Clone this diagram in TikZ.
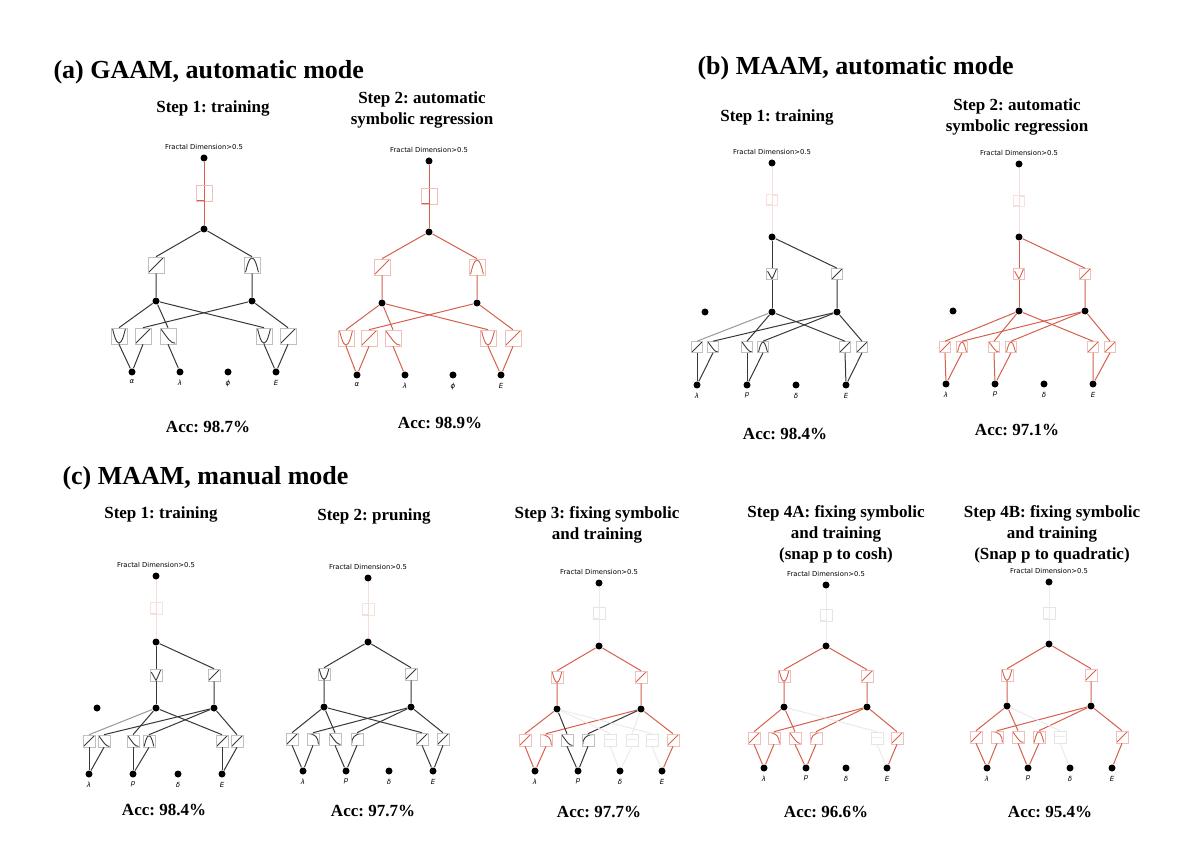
\documentclass[tikz,border=0pt]{standalone}
\usepackage{fontspec}
\setmainfont{Liberation Serif}
\newfontfamily\plotfont{DejaVu Sans}
\usetikzlibrary{positioning}
\frenchspacing

\definecolor{kred}{RGB}{214,96,77}
\colorlet{ink}{black!78}
\colorlet{soft}{black!40}
\colorlet{faint}{black!8}
\colorlet{pale}{kred!22}
\colorlet{kredB}{kred!40}
\colorlet{inkB}{black!25}
\colorlet{softB}{black!20}
\colorlet{faintB}{black!10}
\colorlet{paleB}{kred!18}

% little curves drawn inside the activation boxes (units: half box)
\newcommand\glyphlin{\draw[glyphcol] (-0.9,-0.9) -- (0.9,0.9);}
\newcommand\glyphdec{\draw[glyphcol] (-0.9,0.9) .. controls (0,-0.3) and (0.3,-0.9) .. (0.9,-0.9);}
\newcommand\glyphU{\draw[glyphcol] (-0.8,0.9) parabola bend (0,-0.9) (0.8,0.9);}
\newcommand\glyphcap{\draw[glyphcol] (-0.8,-0.9) parabola bend (0,0.9) (0.8,-0.9);}
\newcommand\glyphV{\draw[glyphcol] (-0.8,0.5) .. controls (-0.3,-0.3) .. (0,-0.9) .. controls (0.3,-0.3) .. (0.8,0.9);}
\newcommand\glyphstep{\draw[glyphcol] (-1,-0.9) -- (0,-0.9) -- (0,0.9) -- (1,0.9);}
\newcommand\glyphfall{\draw[glyphcol] (-0.9,0.9) .. controls (0.4,0.9) and (0.9,0.2) .. (0.9,-0.9);}
\newcommand\glyphrise{\draw[glyphcol] (-0.9,-0.9) .. controls (-0.9,0.2) and (-0.4,0.9) .. (0.9,0.9);}
\newcommand\glyphflat{\draw[glyphcol] (-0.9,0.1) -- (0.9,0.1);}

\tikzset{
  dot/.style={circle, fill=black, inner sep=0, minimum size=7pt},
  box/.style={draw=#1B, line width=0.6pt, inner sep=0, minimum size=2*\bh,
    glyphcol/.style={draw=#1, line width=0.9pt}},
  glyph/.style={path picture={\begin{scope}[shift={(path picture bounding box.center)}, x=\bh pt, y=\bh pt]
    \csname glyph#1\endcsname\end{scope}}},
  fd/.style={font=\plotfont\fontsize{6.8}{8}\selectfont, inner sep=0.5pt},
  inlab/.style={font=\plotfont\itshape\fontsize{7}{8}\selectfont, inner sep=0.5pt},
  title/.style={font=\bfseries\fontsize{26}{30}\selectfont, anchor=base west, inner sep=0},
  steplab/.style={font=\bfseries\fontsize{17}{21}\selectfont, align=center, inner sep=0},
  acc/.style={font=\bfseries\fontsize{17}{21}\selectfont, inner sep=0}
}

\begin{document}
\begin{tikzpicture}[x=1pt, y=-1pt, line width=1pt]
  \useasboundingbox[fill=white] (0,0) rectangle (1200,858);

  % titles
  \node[title] (A-title) at (53,79) {(a) GAAM, automatic mode};
  \node[title] (B-title) at (697,75) {(b) MAAM, automatic mode};
  \node[title] (C-title) at (62,485) {(c) MAAM, manual mode};

  \node[steplab] (A1-step) at (213,108) {Step 1: training};
  \node[steplab] (A2-step) at (422,110) {Step 2: automatic\\symbolic regression};
  \node[steplab] (B1-step) at (777,117) {Step 1: training};
  \node[steplab] (B2-step) at (1017,117) {Step 2: automatic\\symbolic regression};
  \node[steplab] (C1-step) at (161,514) {Step 1: training};
  \node[steplab] (C2-step) at (374,516) {Step 2: pruning};
  \node[steplab] (C3-step) at (597,525) {Step 3: fixing symbolic\\and training};
  \node[steplab] (C4-step) at (836,534) {Step 4A: fixing symbolic\\and training\\(snap p to cosh)};
  \node[steplab] (C5-step) at (1052,534) {Step 4B: fixing symbolic\\and training\\(Snap p to quadratic)};

  \node[acc] (A1-acc) at (208,427) {Acc: 98.7\%};
  \node[acc] (A2-acc) at (440,423) {Acc: 98.9\%};
  \node[acc] (B1-acc) at (785,434) {Acc: 98.4\%};
  \node[acc] (B2-acc) at (1017,430) {Acc: 97.1\%};
  \node[acc] (C1-acc) at (164,810) {Acc: 98.4\%};
  \node[acc] (C2-acc) at (373,811) {Acc: 97.7\%};
  \node[acc] (C3-acc) at (599,812) {Acc: 97.7\%};
  \node[acc] (C4-acc) at (826,812) {Acc: 96.6\%};
  \node[acc] (C5-acc) at (1050,812) {Acc: 95.4\%};

  % (a) step 1
  \def\bh{8}
  \foreach \n/\xx/\yy in {out/204/158, mid/204/229, h1/156/301, h2/252/301,
      i1/132/372, i2/180/372, i3/228/372, i4/276/372}
    \node[dot] (A1-\n) at (\xx,\yy) {};
  \node[fd, above=3pt of A1-out] (A1-fd) {Fractal Dimension>0.5};
  \foreach \k/\t in {1/α, 2/λ, 3/ϕ, 4/E}
    \node[inlab, below=3pt of A1-i\k] (A1-l\k) {\t};
  \node[box=kred, glyph=step] (A1-top) at (204,193) {};
  \draw[kred] (A1-out) -- (A1-top) -- (A1-mid);
  \foreach \k/\xx/\gl in {1/156/lin, 2/252/cap} {
    \node[box=ink, glyph=\gl] (A1-m\k) at (\xx,265) {};
    \draw[ink] (A1-h\k) -- (A1-m\k.south) (A1-m\k.north) -- (A1-mid);
  }
  \foreach \k/\xx/\gl/\h/\i in {1/119/U/1/1, 2/143/lin/2/1, 3/168/dec/1/2, 4/264/U/1/4, 5/288/lin/2/4} {
    \node[box=ink, glyph=\gl] (A1-b\k) at (\xx,336) {};
    \draw[ink] (A1-i\i) -- (A1-b\k.south) (A1-b\k.north) -- (A1-h\h);
  }

  % (a) step 2
  \foreach \n/\xx/\yy in {out/429/161, mid/429/232, h1/382/303, h2/477/303,
      i1/357/375, i2/405/375, i3/453/375, i4/501/375}
    \node[dot] (A2-\n) at (\xx,\yy) {};
  \node[fd, above=3pt of A2-out] (A2-fd) {Fractal Dimension>0.5};
  \foreach \k/\t in {1/α, 2/λ, 3/ϕ, 4/E}
    \node[inlab, below=3pt of A2-i\k] (A2-l\k) {\t};
  \node[box=kred, glyph=step] (A2-top) at (429,196) {};
  \draw[kred] (A2-out) -- (A2-top) -- (A2-mid);
  \foreach \k/\xx/\gl in {1/382/lin, 2/477/cap} {
    \node[box=kred, glyph=\gl] (A2-m\k) at (\xx,267) {};
    \draw[kred] (A2-h\k) -- (A2-m\k.south) (A2-m\k.north) -- (A2-mid);
  }
  \foreach \k/\xx/\gl/\h/\i in {1/346/U/1/1, 2/369/lin/2/1, 3/393/dec/1/2, 4/488/U/1/4, 5/513/lin/2/4} {
    \node[box=kred, glyph=\gl] (A2-b\k) at (\xx,338) {};
    \draw[kred] (A2-i\i) -- (A2-b\k.south) (A2-b\k.north) -- (A2-h\h);
  }

  % (b) step 1
  \def\bh{5.5}
  \foreach \n/\xx/\yy in {out/772/163, mid/772/237, h0/705/312, h1/772/312, h2/837/312,
      i1/697/385, i2/747/385, i3/796/385, i4/846/385}
    \node[dot] (B1-\n) at (\xx,\yy) {};
  \node[fd, above=3pt of B1-out] (B1-fd) {Fractal Dimension>0.5};
  \foreach \k/\t in {1/λ, 2/p, 3/δ, 4/E}
    \node[inlab, below=3pt of B1-i\k] (B1-l\k) {\t};
  \node[box=pale, glyph=step] (B1-top) at (772,200) {};
  \draw[pale] (B1-out) -- (B1-top) -- (B1-mid);
  \foreach \k/\xx/\gl in {1/772/V, 2/837/lin} {
    \node[box=ink, glyph=\gl] (B1-m\k) at (\xx,274) {};
    \draw[ink] (B1-h\k) -- (B1-m\k.south) (B1-m\k.north) -- (B1-mid);
  }
  \foreach \k/\xx/\gl/\h/\i/\col/\cu in {1/697/lin/1/1/ink/soft, 2/713/dec/2/1/ink/ink,
      3/747/dec/1/2/ink/ink, 4/763/cap/2/2/ink/ink, 5/845/lin/1/4/ink/ink, 6/862/lin/2/4/ink/ink} {
    \node[box=\col, glyph=\gl] (B1-b\k) at (\xx,347) {};
    \draw[color=\col] (B1-i\i) -- (B1-b\k.south);
    \draw[color=\cu] (B1-b\k.north) -- (B1-h\h);
  }

  % (b) step 2
  \foreach \n/\xx/\yy in {out/1019/164, mid/1019/237, h0/953/311, h1/1019/311, h2/1085/311,
      i1/946/384, i2/995/384, i3/1044/384, i4/1093/384}
    \node[dot] (B2-\n) at (\xx,\yy) {};
  \node[fd, above=3pt of B2-out] (B2-fd) {Fractal Dimension>0.5};
  \foreach \k/\t in {1/λ, 2/p, 3/δ, 4/E}
    \node[inlab, below=3pt of B2-i\k] (B2-l\k) {\t};
  \node[box=pale, glyph=step] (B2-top) at (1019,201) {};
  \draw[pale] (B2-out) -- (B2-top) -- (B2-mid);
  \foreach \k/\xx/\gl in {1/1019/V, 2/1085/lin} {
    \node[box=kred, glyph=\gl] (B2-m\k) at (\xx,274) {};
    \draw[kred] (B2-h\k) -- (B2-m\k.south) (B2-m\k.north) -- (B2-mid);
  }
  \foreach \k/\xx/\gl/\h/\i in {1/945/lin/1/1, 2/962/cap/2/1, 3/994/dec/1/2, 4/1011/cap/2/2,
      5/1093/lin/1/4, 6/1110/lin/2/4} {
    \node[box=kred, glyph=\gl] (B2-b\k) at (\xx,347) {};
    \draw[kred] (B2-i\i) -- (B2-b\k.south) (B2-b\k.north) -- (B2-h\h);
  }

  % (c) step 1
  \def\bh{6}
  \foreach \n/\xx/\yy in {out/156/576, mid/156/642, h0/97/708, h1/156/708, h2/214/708,
      i1/89/774, i2/133/774, i3/178/774, i4/222/774}
    \node[dot] (C1-\n) at (\xx,\yy) {};
  \node[fd, above=3pt of C1-out] (C1-fd) {Fractal Dimension>0.5};
  \foreach \k/\t in {1/λ, 2/p, 3/δ, 4/E}
    \node[inlab, below=3pt of C1-i\k] (C1-l\k) {\t};
  \node[box=pale, glyph=step] (C1-top) at (156,608) {};
  \draw[pale] (C1-out) -- (C1-top) -- (C1-mid);
  \foreach \k/\xx/\gl in {1/156/V, 2/214/lin} {
    \node[box=ink, glyph=\gl] (C1-m\k) at (\xx,675) {};
    \draw[ink] (C1-h\k) -- (C1-m\k.south) (C1-m\k.north) -- (C1-mid);
  }
  \foreach \k/\xx/\gl/\h/\i/\col/\cu in {1/89/lin/1/1/ink/soft, 2/104/dec/2/1/ink/ink,
      3/133/dec/1/2/ink/ink, 4/149/cap/2/2/ink/ink, 5/222/lin/1/4/ink/ink, 6/237/lin/2/4/ink/ink} {
    \node[box=\col, glyph=\gl] (C1-b\k) at (\xx,741) {};
    \draw[color=\col] (C1-i\i) -- (C1-b\k.south);
    \draw[color=\cu] (C1-b\k.north) -- (C1-h\h);
  }

  % (c) step 2
  \foreach \n/\xx/\yy in {out/368/578, mid/368/642, h1/324/707, h2/411/707,
      i1/303/771, i2/346/771, i3/389/771, i4/433/771}
    \node[dot] (C2-\n) at (\xx,\yy) {};
  \node[fd, above=3pt of C2-out] (C2-fd) {Fractal Dimension>0.5};
  \foreach \k/\t in {1/λ, 2/p, 3/δ, 4/E}
    \node[inlab, below=3pt of C2-i\k] (C2-l\k) {\t};
  \node[box=pale, glyph=step] (C2-top) at (368,609) {};
  \draw[pale] (C2-out) -- (C2-top) -- (C2-mid);
  \foreach \k/\xx/\gl in {1/324/U, 2/411/lin} {
    \node[box=ink, glyph=\gl] (C2-m\k) at (\xx,674) {};
    \draw[ink] (C2-h\k) -- (C2-m\k.south) (C2-m\k.north) -- (C2-mid);
  }
  \foreach \k/\xx/\gl/\h/\i in {1/292/lin/1/1, 2/313/fall/2/1, 3/335/dec/1/2, 4/357/rise/2/2,
      5/422/lin/1/4, 6/443/lin/2/4} {
    \node[box=ink, glyph=\gl] (C2-b\k) at (\xx,739) {};
    \draw[ink] (C2-i\i) -- (C2-b\k.south) (C2-b\k.north) -- (C2-h\h);
  }

  % (c) step 3
  \foreach \n/\xx/\yy in {out/599/583, mid/599/646, h1/557/709, h2/641/709,
      i1/535/771, i2/578/771, i3/620/771, i4/662/771}
    \node[dot] (C3-\n) at (\xx,\yy) {};
  \node[fd, above=3pt of C3-out] (C3-fd) {Fractal Dimension>0.5};
  \foreach \k/\t in {1/λ, 2/p, 3/δ, 4/E}
    \node[inlab, below=3pt of C3-i\k] (C3-l\k) {\t};
  \node[box=faint, glyph=step] (C3-top) at (599,613) {};
  \draw[faint] (C3-out) -- (C3-top) -- (C3-mid);
  \foreach \k/\xx/\gl in {1/557/U, 2/641/lin} {
    \node[box=kred, glyph=\gl] (C3-m\k) at (\xx,677) {};
    \draw[kred] (C3-h\k) -- (C3-m\k.south) (C3-m\k.north) -- (C3-mid);
  }
  \foreach \k/\xx/\gl/\h/\i/\col in {1/525/lin/1/1/kred, 2/546/fall/2/1/kred, 3/567/dec/1/2/ink,
      4/588/rise/2/2/ink, 5/610/flat/1/3/faint, 6/632/flat/2/3/faint, 7/652/flat/1/4/faint,
      8/673/lin/2/4/kred} {
    \node[box=\col, glyph=\gl] (C3-b\k) at (\xx,740) {};
    \draw[color=\col] (C3-i\i) -- (C3-b\k.south) (C3-b\k.north) -- (C3-h\h);
  }

  % (c) step 4A
  \foreach \n/\xx/\yy in {out/826/585, mid/826/646, h1/784/707, h2/867/707,
      i1/764/768, i2/806/768, i3/846/768, i4/887/768}
    \node[dot] (C4-\n) at (\xx,\yy) {};
  \node[fd, above=3pt of C4-out] (C4-fd) {Fractal Dimension>0.5};
  \foreach \k/\t in {1/λ, 2/p, 3/δ, 4/E}
    \node[inlab, below=3pt of C4-i\k] (C4-l\k) {\t};
  \node[box=faint, glyph=step] (C4-top) at (826,615) {};
  \draw[faint] (C4-out) -- (C4-top) -- (C4-mid);
  \foreach \k/\xx/\gl in {1/784/U, 2/867/lin} {
    \node[box=kred, glyph=\gl] (C4-m\k) at (\xx,676) {};
    \draw[kred] (C4-h\k) -- (C4-m\k.south) (C4-m\k.north) -- (C4-mid);
  }
  \foreach \k/\xx/\gl/\h/\i/\col in {1/754/lin/1/1/kred, 2/774/fall/2/1/kred, 3/795/dec/1/2/kred,
      4/816/rise/2/2/kred, 5/877/flat/1/4/faint, 6/897/lin/2/4/kred} {
    \node[box=\col, glyph=\gl] (C4-b\k) at (\xx,738) {};
    \draw[color=\col] (C4-i\i) -- (C4-b\k.south) (C4-b\k.north) -- (C4-h\h);
  }

  % (c) step 4B
  \foreach \n/\xx/\yy in {out/1049/582, mid/1049/644, h1/1007/706, h2/1091/706,
      i1/987/768, i2/1028/768, i3/1070/768, i4/1112/768}
    \node[dot] (C5-\n) at (\xx,\yy) {};
  \node[fd, above=3pt of C5-out] (C5-fd) {Fractal Dimension>0.5};
  \foreach \k/\t in {1/λ, 2/p, 3/δ, 4/E}
    \node[inlab, below=3pt of C5-i\k] (C5-l\k) {\t};
  \node[box=faint, glyph=step] (C5-top) at (1049,613) {};
  \draw[faint] (C5-out) -- (C5-top) -- (C5-mid);
  \foreach \k/\xx/\gl in {1/1007/U, 2/1091/lin} {
    \node[box=kred, glyph=\gl] (C5-m\k) at (\xx,675) {};
    \draw[kred] (C5-h\k) -- (C5-m\k.south) (C5-m\k.north) -- (C5-mid);
  }
  \foreach \k/\xx/\gl/\h/\i/\col in {1/976/lin/1/1/kred, 2/997/fall/2/1/kred, 3/1018/dec/1/2/kred,
      4/1039/cap/2/2/kred, 5/1060/flat/1/3/faint, 6/1122/lin/2/4/kred} {
    \node[box=\col, glyph=\gl] (C5-b\k) at (\xx,737) {};
    \draw[color=\col] (C5-i\i) -- (C5-b\k.south) (C5-b\k.north) -- (C5-h\h);
  }
\end{tikzpicture}
\end{document}
